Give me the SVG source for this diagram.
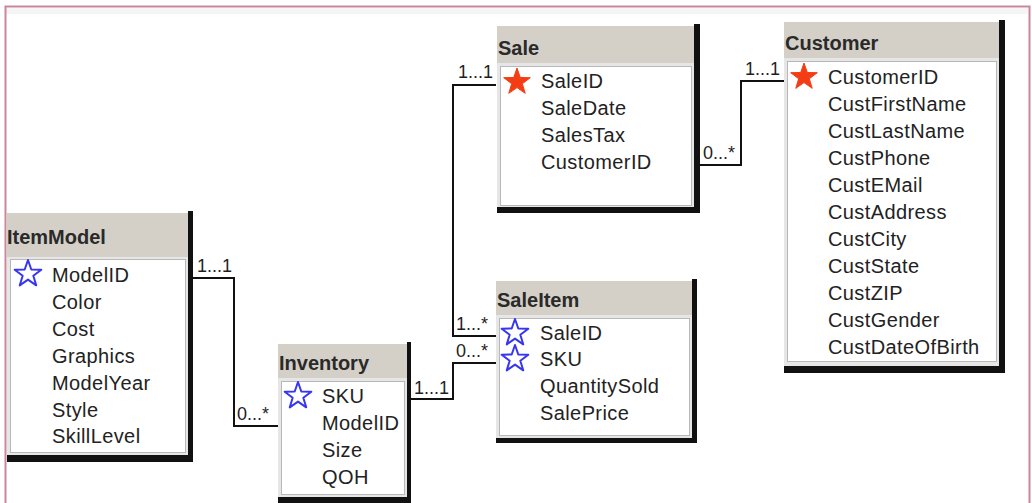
<svg xmlns="http://www.w3.org/2000/svg" width="1032" height="503" viewBox="0 0 1032 503">
<style>
.hdr{fill:#d4d0c8}
.body{fill:#e6e6e6}
.inner{fill:#ffffff;stroke:#b8b8b8;stroke-width:1}
.shadow{fill:#111111}
.title{font-family:"Liberation Sans",Arial,sans-serif;font-weight:bold;font-size:20px;fill:#2a2a2a}
.field{font-family:"Liberation Sans",Arial,sans-serif;font-size:20px;fill:#222222;letter-spacing:0.4px}
.lbl{font-family:"Liberation Sans",Arial,sans-serif;font-size:18px;fill:#1e1e1e}
.conn{fill:none;stroke:#111111;stroke-width:2}
.pk{fill:#f43d14;stroke:#f43d14;stroke-width:1}
.fk{fill:#ffffff;stroke:#3636f0;stroke-width:2;stroke-linejoin:round}
</style>
<defs>
<path id="star" d="M0,-14 L3.292,-4.531 L13.315,-4.326 L5.326,1.730 L8.229,11.326 L0,5.6 L-8.229,11.326 L-5.326,1.730 L-13.315,-4.326 L-3.292,-4.531 Z"/>
</defs>
<rect x="0" y="0" width="1032" height="503" fill="#ffffff"/>
<rect x="6" y="8" width="1022" height="6" fill="#f5f5f5"/>
<rect x="5.5" y="6.5" width="1024" height="520" fill="none" stroke="#c8879a" stroke-width="2"/>

<g id="connectors">
<polyline class="conn" points="192,278 234,278 234,426 278,426"/>
<polyline class="conn" points="410,399 453,399 453,363 496,363"/>
<polyline class="conn" points="496,85 453,85 453,336 496,336"/>
<polyline class="conn" points="700,165 741,165 741,81 784,81"/>
<text class="lbl" x="197" y="272">1...1</text>
<text class="lbl" x="237" y="420">0...*</text>
<text class="lbl" x="414" y="394">1...1</text>
<text class="lbl" x="456" y="357">0...*</text>
<text class="lbl" x="456" y="330">1...*</text>
<text class="lbl" x="458" y="78">1...1</text>
<text class="lbl" x="703" y="159">0...*</text>
<text class="lbl" x="745" y="75">1...1</text>
</g>

<g id="Sale">
<rect class="body" x="497" y="26" width="197" height="182"/>
<rect class="hdr" x="497" y="26" width="197" height="37"/>
<rect class="inner" x="500.5" y="66.5" width="191" height="139"/>
<rect class="shadow" x="694" y="24" width="6" height="189"/>
<rect class="shadow" x="497" y="207" width="203" height="6"/>
<text class="title" x="498" y="55">Sale</text>
<use href="#star" class="pk" x="517" y="82"/>
<text class="field" x="541" y="88">SaleID</text>
<text class="field" x="541" y="115">SaleDate</text>
<text class="field" x="541" y="142">SalesTax</text>
<text class="field" x="541" y="169">CustomerID</text>
</g>

<g id="Customer">
<rect class="body" x="784" y="22" width="215" height="344"/>
<rect class="hdr" x="784" y="22" width="215" height="36"/>
<rect class="inner" x="787.5" y="61.5" width="209" height="300"/>
<rect class="shadow" x="999" y="20" width="6" height="353"/>
<rect class="shadow" x="784" y="366" width="221" height="7"/>
<text class="title" x="785" y="50">Customer</text>
<use href="#star" class="pk" x="804" y="77"/>
<text class="field" x="828" y="84">CustomerID</text>
<text class="field" x="828" y="111">CustFirstName</text>
<text class="field" x="828" y="138">CustLastName</text>
<text class="field" x="828" y="165">CustPhone</text>
<text class="field" x="828" y="192">CustEMail</text>
<text class="field" x="828" y="219">CustAddress</text>
<text class="field" x="828" y="246">CustCity</text>
<text class="field" x="828" y="273">CustState</text>
<text class="field" x="828" y="300">CustZIP</text>
<text class="field" x="828" y="327">CustGender</text>
<text class="field" x="828" y="354">CustDateOfBirth</text>
</g>

<g id="ItemModel">
<rect class="body" x="7" y="213" width="181" height="243"/>
<rect class="hdr" x="7" y="213" width="181" height="44"/>
<rect class="inner" x="10.5" y="259.5" width="175" height="193"/>
<rect class="shadow" x="188" y="211" width="5" height="251"/>
<rect class="shadow" x="7" y="455" width="186" height="7"/>
<text class="title" x="7" y="244">ItemModel</text>
<use href="#star" class="fk" x="28" y="274"/>
<text class="field" x="52" y="282">ModelID</text>
<text class="field" x="52" y="309">Color</text>
<text class="field" x="52" y="336">Cost</text>
<text class="field" x="52" y="363">Graphics</text>
<text class="field" x="52" y="390">ModelYear</text>
<text class="field" x="52" y="417">Style</text>
<text class="field" x="52" y="443">SkillLevel</text>
</g>

<g id="Inventory">
<rect class="body" x="278" y="344" width="129" height="154"/>
<rect class="hdr" x="278" y="344" width="129" height="34"/>
<rect class="inner" x="281.5" y="381.5" width="123" height="113"/>
<rect class="shadow" x="407" y="342" width="4" height="161"/>
<rect class="shadow" x="278" y="497" width="133" height="6"/>
<text class="title" x="279" y="370">Inventory</text>
<use href="#star" class="fk" x="298" y="396"/>
<text class="field" x="322" y="403">SKU</text>
<text class="field" x="322" y="430">ModelID</text>
<text class="field" x="322" y="457">Size</text>
<text class="field" x="322" y="484">QOH</text>
</g>

<g id="SaleItem">
<rect class="body" x="496" y="281" width="196" height="158"/>
<rect class="hdr" x="496" y="281" width="196" height="34"/>
<rect class="inner" x="499.5" y="318.5" width="190" height="117"/>
<rect class="shadow" x="692" y="279" width="5" height="164"/>
<rect class="shadow" x="496" y="438" width="201" height="5"/>
<text class="title" x="497" y="307">SaleItem</text>
<use href="#star" class="fk" x="515" y="333"/>
<use href="#star" class="fk" x="515" y="359"/>
<text class="field" x="540" y="340">SaleID</text>
<text class="field" x="540" y="366">SKU</text>
<text class="field" x="540" y="393">QuantitySold</text>
<text class="field" x="540" y="420">SalePrice</text>
</g>
</svg>
